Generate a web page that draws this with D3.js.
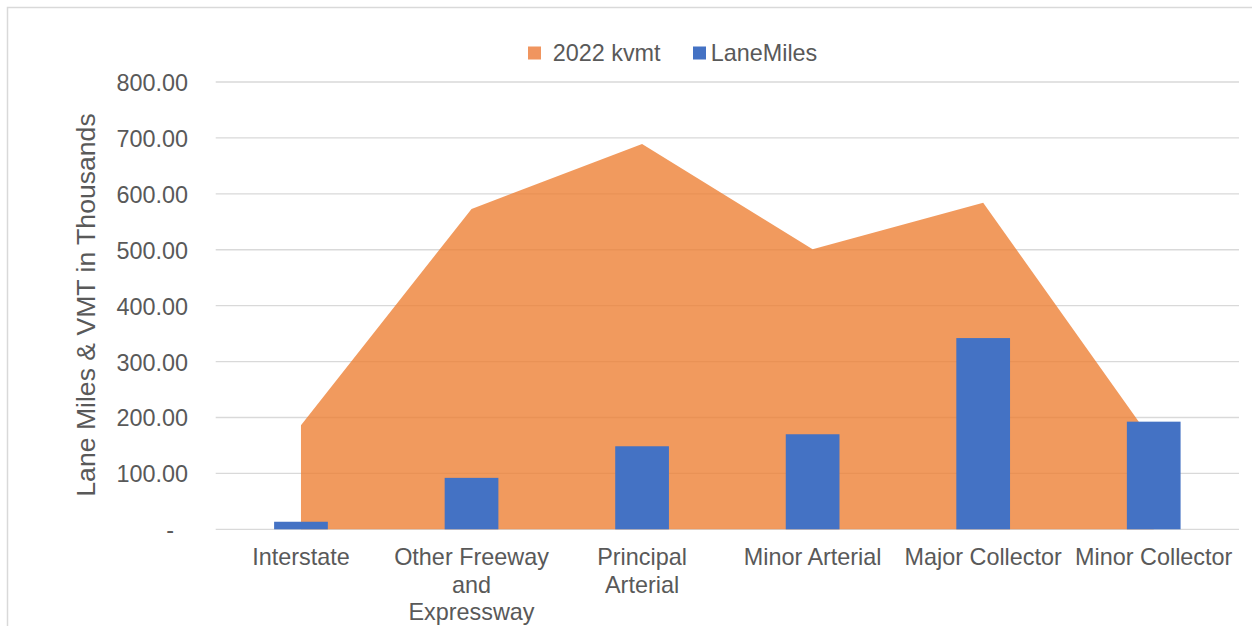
<!DOCTYPE html>
<html><head><meta charset="utf-8">
<script src="https://cdn.jsdelivr.net/npm/d3@7"></script>
<style>html,body{margin:0;padding:0;background:#fff;}svg{display:block;font-family:"Liberation Sans",Arial,sans-serif;}</style>
</head><body>
<svg id="c" width="1252" height="626"></svg>
<script>
const categories = ["Interstate", "Other Freeway and Expressway", "Principal Arterial", "Minor Arterial", "Major Collector", "Minor Collector"];
const categoryLines = [["Interstate"], ["Other Freeway", "and", "Expressway"], ["Principal", "Arterial"], ["Minor Arterial"], ["Major Collector"], ["Minor Collector"]];
const kvmt = [186, 573, 689, 501, 584, 155];
const laneMiles = [13.5, 92, 148.5, 170, 342, 192.5];
const yTicks = [0, 100, 200, 300, 400, 500, 600, 700, 800];
const seriesNames = ["2022 kvmt", "LaneMiles"];

(function () {
const svg = d3.select("#c");
const pLeft = 215.7, pRight = 1239, pTop = 82, pBottom = 529.3;
const textColor = "#595959";

svg.append("rect").attr("x", 7.5).attr("y", 7.5).attr("width", 1300).attr("height", 700)
  .attr("fill", "none").attr("stroke", "#D9D9D9").attr("stroke-width", 1.5);

const x = d3.scaleBand().domain(categories).range([pLeft, pRight]).padding(0);
const y = d3.scaleLinear().domain([0, 800]).range([pBottom, pTop]);
const cx = c => x(c) + x.bandwidth() / 2;

// gridlines
svg.append("g").selectAll("line").data(yTicks).join("line")
  .attr("x1", pLeft).attr("x2", pRight)
  .attr("y1", d => y(d)).attr("y2", d => y(d))
  .attr("stroke", "#D9D9D9").attr("stroke-width", 1.3);

// area
const areaData = categories.map((c, i) => ({c, v: kvmt[i]}));
const area = d3.area().x(d => cx(d.c)).y0(y(0)).y1(d => y(d.v));
svg.append("path").datum(areaData).attr("d", area)
  .attr("fill", "#ED7D31").attr("fill-opacity", 0.78);

// bars
const barW = x.bandwidth() * 0.315;
svg.append("g").selectAll("rect").data(categories).join("rect")
  .attr("x", c => cx(c) - barW / 2)
  .attr("width", barW)
  .attr("y", (c, i) => y(laneMiles[i]))
  .attr("height", (c, i) => y(0) - y(laneMiles[i]))
  .attr("fill", "#4472C4");

// y axis labels
const yAxis = d3.axisLeft(y).tickValues(yTicks).tickSize(0).tickPadding(0)
  .tickFormat(d => d === 0 ? "-" : d3.format(".2f")(d));
const ga = svg.append("g").attr("transform", "translate(188,0)").call(yAxis);
ga.select(".domain").remove();
ga.selectAll("text").attr("fill", textColor).attr("font-size", 23.4)
  .attr("font-family", "Liberation Sans, Arial, sans-serif")
  .attr("dy", "0.36em")
  .attr("x", d => d === 0 ? -14 : 0);

// x labels
const gx = svg.append("g");
categories.forEach((c, i) => {
  const t = gx.append("text").attr("x", cx(c)).attr("y", 565)
    .attr("text-anchor", "middle").attr("fill", textColor).attr("font-size", 23.4);
  categoryLines[i].forEach((ln, j) => {
    t.append("tspan").attr("x", cx(c)).attr("dy", j === 0 ? 0 : 27.5).text(ln);
  });
});

// axis title
svg.append("text").attr("transform", "translate(95,305) rotate(-90)")
  .attr("text-anchor", "middle").attr("fill", textColor).attr("font-size", 26.6)
  .text("Lane Miles & VMT in Thousands");

// legend
const legend = [
  {name: seriesNames[0], color: "#F0955F", sx: 528, tx: 552.7},
  {name: seriesNames[1], color: "#4472C4", sx: 693, tx: 710.7}
];
const lg = svg.append("g");
legend.forEach(l => {
  lg.append("rect").attr("x", l.sx).attr("y", 46.5).attr("width", 13).attr("height", 13).attr("fill", l.color);
  lg.append("text").attr("x", l.tx).attr("y", 61).attr("fill", textColor).attr("font-size", 23.4).text(l.name);
});
})();
</script>
</body></html>
